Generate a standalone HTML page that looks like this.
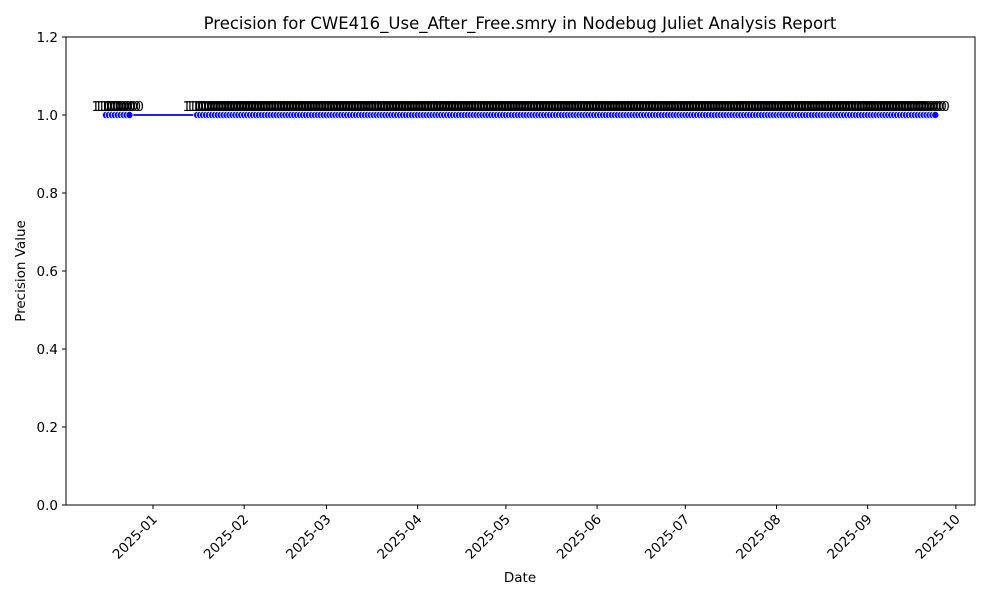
<!DOCTYPE html>
<html><head><meta charset="utf-8">
<style>
html,body{margin:0;padding:0;background:#fff;}
svg{display:block;font-family:"DejaVu Sans","Liberation Sans",sans-serif;}
</style></head>
<body>
<svg id="chart" width="1000" height="600" viewBox="0 0 1000 600">
<rect width="1000" height="600" fill="#fff"/>
<text x="520" y="29" font-size="16.5" text-anchor="middle">Precision for CWE416_Use_After_Free.smry in Nodebug Juliet Analysis Report</text>
<text x="520" y="582" font-size="13.5" text-anchor="middle">Date</text>
<text x="25" y="271" font-size="13.5" text-anchor="middle" transform="rotate(-90 25 271)">Precision Value</text>
<g id="yticks"></g>
<g id="xticks"></g>
<g id="series"></g>
<rect x="66" y="37" width="909" height="468" fill="none" stroke="#000" stroke-width="1"/>
</svg>
<script>
const dateRanges = [["2024-12-16","2024-12-24"],["2025-01-16","2025-09-24"]];
const values = [
1,1,1,1,1,1,1,1,1,1,1,1,1,1,1,1,1,1,1,1,
1,1,1,1,1,1,1,1,1,1,1,1,1,1,1,1,1,1,1,1,
1,1,1,1,1,1,1,1,1,1,1,1,1,1,1,1,1,1,1,1,
1,1,1,1,1,1,1,1,1,1,1,1,1,1,1,1,1,1,1,1,
1,1,1,1,1,1,1,1,1,1,1,1,1,1,1,1,1,1,1,1,
1,1,1,1,1,1,1,1,1,1,1,1,1,1,1,1,1,1,1,1,
1,1,1,1,1,1,1,1,1,1,1,1,1,1,1,1,1,1,1,1,
1,1,1,1,1,1,1,1,1,1,1,1,1,1,1,1,1,1,1,1,
1,1,1,1,1,1,1,1,1,1,1,1,1,1,1,1,1,1,1,1,
1,1,1,1,1,1,1,1,1,1,1,1,1,1,1,1,1,1,1,1,
1,1,1,1,1,1,1,1,1,1,1,1,1,1,1,1,1,1,1,1,
1,1,1,1,1,1,1,1,1,1,1,1,1,1,1,1,1,1,1,1,
1,1,1,1,1,1,1,1,1,1,1,1,1,1,1,1,1,1,1,1,
1];
const yTickValues = [0.0,0.2,0.4,0.6,0.8,1.0,1.2];
const xTickLabels = ["2025-01","2025-02","2025-03","2025-04","2025-05","2025-06","2025-07","2025-08","2025-09","2025-10"];

const NS = "http://www.w3.org/2000/svg";
const DAY = 86400000;
const xMin = Date.UTC(2024,11,2,10), xMax = Date.UTC(2025,9,7,12);
const X0 = 66, X1 = 975, Y0 = 505, Y1 = 37;
function xScale(t){ return X0 + (t - xMin) / (xMax - xMin) * (X1 - X0); }
function yScale(v){ return Y0 - (v - 0) / (1.2 - 0) * (Y0 - Y1); }
function mk(tag, attrs, parent){ const e = document.createElementNS(NS, tag); for (const k in attrs) e.setAttribute(k, attrs[k]); parent.appendChild(e); return e; }
function parse(s){ const p = s.split("-").map(Number); return Date.UTC(p[0], p[1]-1, p[2] || 1); }

const dates = [];
dateRanges.forEach(r => { for (let t = parse(r[0]); t <= parse(r[1]); t += DAY) dates.push(t); });

const yt = document.getElementById("yticks");
yTickValues.forEach(v => {
  const y = yScale(v);
  const l = mk("line", {x1:X0-4, x2:X0, y1:y, y2:y, stroke:"#000"}, yt);
  
  
  const t = mk("text", {x:X0-8, y:y+5, "font-size":13.5, "text-anchor":"end"}, yt);
  
  
  t.textContent = v.toFixed(1);
});

const xt = document.getElementById("xticks");
xTickLabels.forEach(s => {
  const x = xScale(parse(s));
  const l = mk("line", {x1:x, x2:x, y1:Y0, y2:Y0+4, stroke:"#000"}, xt);
  
  
  const t = mk("text", {x:x+5, y:Y0+15, "font-size":13.5, "text-anchor":"end", transform:"rotate(-45 "+(x+5)+" "+(Y0+15)+")"}, xt);
  
  
  t.textContent = s;
});

const g = document.getElementById("series");
const n = Math.min(dates.length, values.length);
let d = "";
for (let i = 0; i < n; i++) d += (i ? "L" : "M") + xScale(dates[i]).toFixed(2) + " " + yScale(values[i]).toFixed(2);
const path = mk("path", {d:d, fill:"none", stroke:"#0000ff", "stroke-width":1.8}, g);


for (let i = 0; i < n; i++) {
  const c = mk("circle", {cx:xScale(dates[i]), cy:yScale(values[i]), r:3.6, fill:"#0000ff", stroke:"#fff", "stroke-width":0.8}, g);
  
  
}
for (let i = 0; i < n; i++) {
  const t = mk("text", {x:xScale(dates[i]), y:yScale(values[i])-4, "font-size":13, "text-anchor":"middle"}, g);
  
  
  t.textContent = values[i].toFixed(2);
}
</script>
</body></html>
